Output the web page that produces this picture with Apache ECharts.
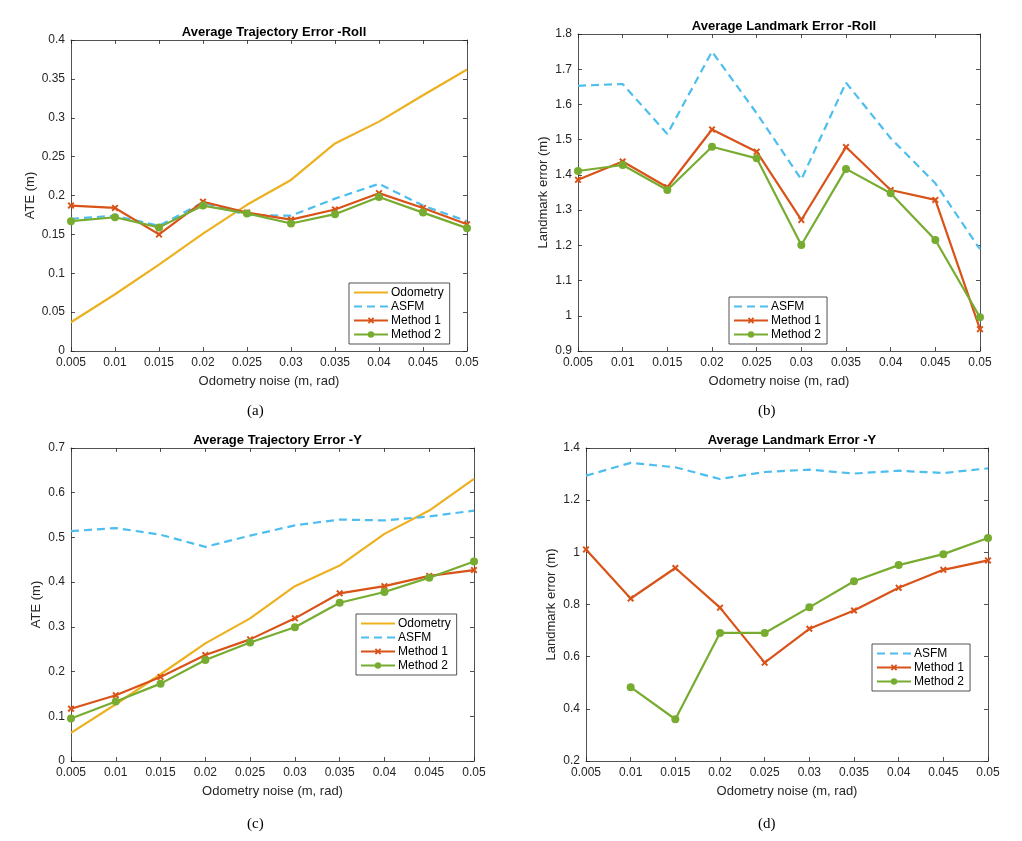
<!DOCTYPE html>
<html><head><meta charset="utf-8">
<script src="https://cdn.jsdelivr.net/npm/echarts@6/dist/echarts.min.js"></script>
<style>html,body{margin:0;padding:0;background:#fff}#c{width:1022px;height:841px}</style>
</head><body><div id="c"></div>
<script>
const noise = ['0.005','0.01','0.015','0.02','0.025','0.03','0.035','0.04','0.045','0.05'];
// (a) Average Trajectory Error -Roll
const aOdometry = [0.037,0.073,0.111,0.151,0.188,0.220,0.267,0.295,0.329,0.362];
const aASFM     = [0.170,0.174,0.161,0.191,0.175,0.174,0.196,0.215,0.187,0.167];
const aMethod1  = [0.187,0.184,0.150,0.192,0.178,0.169,0.182,0.203,0.184,0.163];
const aMethod2  = [0.167,0.172,0.159,0.187,0.177,0.164,0.176,0.198,0.178,0.158];
// (b) Average Landmark Error -Roll
const bASFM     = [1.653,1.658,1.516,1.750,1.575,1.387,1.662,1.504,1.376,1.189];
const bMethod1  = [1.386,1.438,1.365,1.529,1.466,1.272,1.479,1.357,1.329,0.962];
const bMethod2  = [1.411,1.428,1.357,1.480,1.447,1.201,1.417,1.348,1.215,0.996];
// (c) Average Trajectory Error -Y
const cOdometry = [0.063,0.127,0.194,0.263,0.319,0.391,0.437,0.508,0.560,0.631];
const cASFM     = [0.514,0.521,0.506,0.479,0.504,0.527,0.540,0.538,0.547,0.560];
const cMethod1  = [0.117,0.147,0.188,0.237,0.272,0.319,0.375,0.391,0.414,0.427];
const cMethod2  = [0.095,0.133,0.173,0.226,0.265,0.299,0.354,0.378,0.410,0.446];
// (d) Average Landmark Error -Y
const dASFM     = [1.294,1.343,1.326,1.281,1.308,1.317,1.302,1.313,1.304,1.322];
const dMethod1  = [1.011,0.823,0.940,0.788,0.577,0.707,0.777,0.864,0.933,0.969];
const dMethod2  = [null,0.483,0.360,0.691,0.691,0.789,0.889,0.951,0.993,1.055];

const FONT = '"Liberation Sans", Arial, Helvetica, sans-serif';
const AX = '#262626';
const COL = {Odometry:'#EDB120', ASFM:'#4DBEEE', 'Method 1':'#D95319', 'Method 2':'#77AC30'};
const XPATH = 'path://M2,0L5,3L8,0L10,2L7,5L10,8L8,10L5,7L2,10L0,8L3,5L0,2Z';

const panels = [
  {title:'Average Trajectory Error -Roll', cap:'(a)', grid:{left:71,top:40,width:396,height:311},
   yName:'ATE (m)', ymin:0, ymax:0.4, yint:0.05, titleTop:21, nameGapY:34,
   series:{Odometry:aOdometry, ASFM:aASFM, 'Method 1':aMethod1, 'Method 2':aMethod2},
   legend:{left:349, top:283}},
  {title:'Average Landmark Error -Roll', cap:'(b)', grid:{left:578,top:34,width:402,height:317},
   yName:'Landmark error (m)', ymin:0.9, ymax:1.8, yint:0.1, titleTop:15, nameGapY:28,
   series:{ASFM:bASFM, 'Method 1':bMethod1, 'Method 2':bMethod2},
   legend:{left:729, top:297}},
  {title:'Average Trajectory Error -Y', cap:'(c)', grid:{left:71,top:448,width:403,height:313},
   yName:'ATE (m)', ymin:0, ymax:0.7, yint:0.1, titleTop:429, nameGapY:28,
   series:{Odometry:cOdometry, ASFM:cASFM, 'Method 1':cMethod1, 'Method 2':cMethod2},
   legend:{left:356, top:614}},
  {title:'Average Landmark Error -Y', cap:'(d)', grid:{left:586,top:448,width:402,height:313},
   yName:'Landmark error (m)', ymin:0.2, ymax:1.4, yint:0.2, titleTop:429, nameGapY:28,
   series:{ASFM:dASFM, 'Method 1':dMethod1, 'Method 2':dMethod2},
   legend:{left:872, top:644}}
];

const option = {animation:false, backgroundColor:'#fff', grid:[], xAxis:[], yAxis:[], series:[], title:[], legend:[], graphic:[]};

panels.forEach((p, i) => {
  option.grid.push(Object.assign({containLabel:false}, p.grid));
  const tick = {show:true, inside:true, length:4, lineStyle:{color:AX, width:0.8}};
  const line = {show:true, onZero:false, lineStyle:{color:AX, width:0.8}};
  const xb = option.xAxis.length;
  option.xAxis.push({gridIndex:i, type:'category', data:noise, boundaryGap:false, position:'bottom',
    axisLine:line, axisTick:Object.assign({alignWithLabel:true}, tick),
    axisLabel:{color:AX, fontFamily:FONT, fontSize:12, margin:6},
    splitLine:{show:false},
    name:'Odometry noise (m, rad)', nameLocation:'middle', nameGap:24,
    nameTextStyle:{color:AX, fontFamily:FONT, fontSize:13}});
  option.xAxis.push({gridIndex:i, type:'category', data:noise, boundaryGap:false, position:'top',
    axisLine:line, axisTick:tick, axisLabel:{show:false}, splitLine:{show:false}});
  const yb = option.yAxis.length;
  option.yAxis.push({gridIndex:i, type:'value', min:p.ymin, max:p.ymax, interval:p.yint, position:'left',
    axisLine:line, axisTick:tick, splitLine:{show:false},
    axisLabel:{color:AX, fontFamily:FONT, fontSize:12, margin:6},
    name:p.yName, nameLocation:'middle', nameGap:p.nameGapY,
    nameTextStyle:{color:AX, fontFamily:FONT, fontSize:13}});
  option.yAxis.push({gridIndex:i, type:'value', min:p.ymin, max:p.ymax, interval:p.yint, position:'right',
    axisLine:line, axisTick:tick, splitLine:{show:false}, axisLabel:{show:false}});

  option.title.push({text:p.title, left:p.grid.left + p.grid.width/2, top:p.titleTop, textAlign:'center',
    textStyle:{fontFamily:FONT, fontSize:13, fontWeight:'bold', color:'#000'}});

  const names = Object.keys(p.series);
  names.forEach(n => {
    const s = {name:n, type:'line', xAxisIndex:xb, yAxisIndex:yb, data:p.series[n],
      lineStyle:{color:COL[n], width:2.2}, itemStyle:{color:COL[n]}, connectNulls:false,
      showSymbol:false, symbol:'none', z:3};
    if (n === 'ASFM') { s.lineStyle.type = [8,5]; }
    if (n === 'Method 1') { s.symbol = XPATH; s.symbolSize = 7; s.showSymbol = true; s.showAllSymbol = true; }
    if (n === 'Method 2') { s.symbol = 'circle'; s.symbolSize = 8; s.showSymbol = true; s.showAllSymbol = true; }
    option.series.push(s);
  });
  const legendData = names.map(n => (n === 'Odometry' || n === 'ASFM')
    ? {name:n, itemStyle:{opacity:0}} : {name:n});
  option.legend.push({data:legendData, orient:'vertical', left:p.legend.left, top:p.legend.top,
    itemWidth:34, itemHeight:8, itemGap:1, padding:[3,6,3,4],
    borderColor:AX, borderWidth:0.8, backgroundColor:'#fff', selectedMode:false,
    textStyle:{fontFamily:FONT, fontSize:12, lineHeight:13, color:'#000', padding:[0,0,0,-2]}});

  option.graphic.push({type:'text', left: (i%2===0 ? 247 : 758), top: (i<2 ? 404 : 817),
    style:{text:p.cap, font:'15px "Liberation Serif", "Times New Roman", serif', fill:'#000'}});
});

const chart = echarts.init(document.getElementById('c'), null, {renderer:'canvas'});
chart.setOption(option);
</script></body></html>
